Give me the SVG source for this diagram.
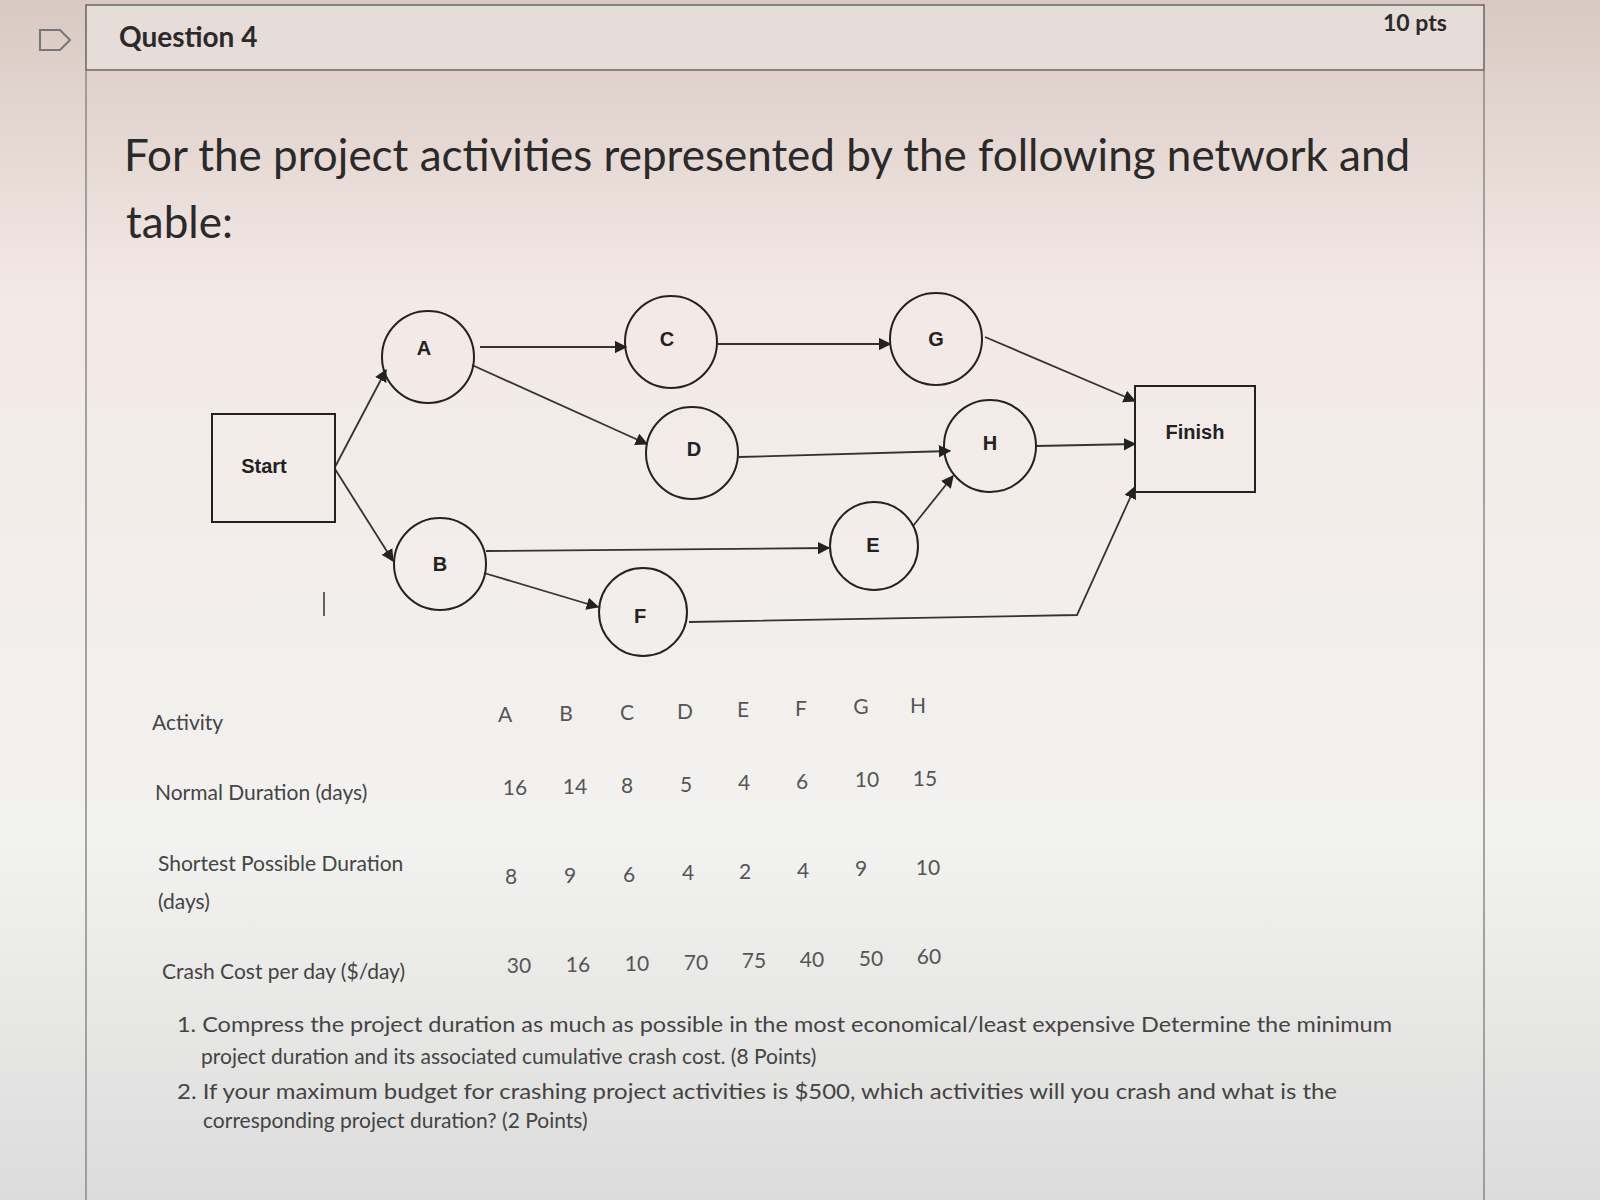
<svg xmlns="http://www.w3.org/2000/svg" width="1600" height="1200" viewBox="0 0 1600 1200">
<defs>
<marker id="ah" viewBox="0 0 10 10" refX="9" refY="5" markerWidth="7" markerHeight="7" orient="auto"><path d="M0,0 L10,5 L0,10 z" fill="#222"/></marker>
<linearGradient id="bg" x1="0" y1="0" x2="0" y2="1"><stop offset="0" stop-color="#d9c9c2"/><stop offset="0.25" stop-color="#f3e9e6"/><stop offset="0.7" stop-color="#f2f2f0"/><stop offset="1" stop-color="#dcdcdc"/></linearGradient>
<style>
.t{font-family:"Lato","Liberation Sans",sans-serif;fill:#2a2a2a}
.n{fill:none;stroke:#222;stroke-width:2}
.c{stroke:#333;stroke-width:1.8;fill:none}
.lb{font-family:"Liberation Sans",sans-serif;font-weight:bold;font-size:20px;fill:#222;text-anchor:middle}
.tb{font-family:"Lato","Liberation Sans",sans-serif;font-size:21px;fill:#444}
.v{font-family:"Lato","Liberation Sans",sans-serif;font-size:21px;fill:#555;text-anchor:middle}
</style>
</defs>
<rect width="1600" height="1200" fill="url(#bg)"/>
<rect x="86" y="5" width="1398" height="65" fill="#e6dcd8" stroke="#666" stroke-width="1.5"/>
<line x1="86" y1="70" x2="86" y2="1200" stroke="#888" stroke-width="1.5"/>
<line x1="1484" y1="70" x2="1484" y2="1200" stroke="#888" stroke-width="1.5"/>
<path d="M40,30 L60,30 L70,40 L60,50 L40,50 Z" fill="none" stroke="#777" stroke-width="2"/>
<text class="t" x="119" y="47" font-size="28" font-weight="bold">Question 4</text>
<text class="t" x="1383" y="31" font-size="23" font-weight="bold">10 pts</text>
<text class="t" x="124" y="171" font-size="44">For the project activities represented by the following network and</text>
<text class="t" x="126" y="238" font-size="44">table:</text>
<g id="connectors">
<line class="c" x1="335" y1="467" x2="386" y2="370" marker-end="url(#ah)"/>
<line class="c" x1="335" y1="469" x2="393" y2="561" marker-end="url(#ah)"/>
<line class="c" x1="480" y1="347" x2="626" y2="347" marker-end="url(#ah)"/>
<line class="c" x1="472" y1="365" x2="647" y2="444" marker-end="url(#ah)"/>
<line class="c" x1="718" y1="344" x2="890" y2="344" marker-end="url(#ah)"/>
<line class="c" x1="985" y1="337" x2="1135" y2="401" marker-end="url(#ah)"/>
<line class="c" x1="739" y1="457" x2="950" y2="451" marker-end="url(#ah)"/>
<line class="c" x1="1036" y1="446" x2="1135" y2="444" marker-end="url(#ah)"/>
<line class="c" x1="486" y1="551" x2="829" y2="548" marker-end="url(#ah)"/>
<line class="c" x1="484" y1="573" x2="598" y2="607" marker-end="url(#ah)"/>
<line class="c" x1="913" y1="526" x2="953" y2="476" marker-end="url(#ah)"/>
<polyline class="c" points="689,622 1077,615 1135,487" marker-end="url(#ah)"/>
</g>
<g id="start"><rect class="n" x="212" y="414" width="123" height="108" fill="#f7f3f2"/><text class="lb" x="264" y="473">Start</text></g>
<g id="A"><circle class="n" cx="428" cy="357" r="46"/><text class="lb" x="424" y="355">A</text></g>
<g id="C"><circle class="n" cx="671" cy="342" r="46"/><text class="lb" x="667" y="346">C</text></g>
<g id="G"><circle class="n" cx="936" cy="339" r="46"/><text class="lb" x="936" y="346">G</text></g>
<g id="D"><circle class="n" cx="692" cy="453" r="46"/><text class="lb" x="694" y="456">D</text></g>
<g id="H"><circle class="n" cx="990" cy="446" r="46"/><text class="lb" x="990" y="450">H</text></g>
<g id="finish"><rect class="n" x="1135" y="386" width="120" height="106" fill="#f7f3f2"/><text class="lb" x="1195" y="439">Finish</text></g>
<g id="E"><circle class="n" cx="874" cy="546" r="44"/><text class="lb" x="873" y="552">E</text></g>
<g id="B"><circle class="n" cx="440" cy="564" r="46"/><text class="lb" x="440" y="571">B</text></g>
<g id="F"><circle class="n" cx="643" cy="612" r="44"/><text class="lb" x="640" y="623">F</text></g>
<line x1="324" y1="592" x2="324" y2="616" stroke="#333" stroke-width="1.5"/>
<text class="tb" x="152" y="730">Activity</text>
<text class="tb" x="155" y="800">Normal Duration (days)</text>
<text class="tb" x="158" y="871">Shortest Possible Duration</text>
<text class="tb" x="158" y="909">(days)</text>
<text class="tb" x="162" y="979">Crash Cost  per day ($/day)</text>
<g class="v">
<text x="505" y="722">A</text><text x="566" y="721">B</text><text x="627" y="720">C</text><text x="685" y="719">D</text><text x="743" y="717">E</text><text x="801" y="716">F</text><text x="861" y="714">G</text><text x="918" y="713">H</text>
<text x="515" y="795">16</text><text x="575" y="794">14</text><text x="627" y="793">8</text><text x="686" y="792">5</text><text x="744" y="790">4</text><text x="802" y="789">6</text><text x="867" y="787">10</text><text x="925" y="786">15</text>
<text x="511" y="884">8</text><text x="570" y="883">9</text><text x="629" y="882">6</text><text x="688" y="880">4</text><text x="745" y="879">2</text><text x="803" y="878">4</text><text x="861" y="876">9</text><text x="928" y="875">10</text>
<text x="519" y="973">30</text><text x="578" y="972">16</text><text x="637" y="971">10</text><text x="696" y="970">70</text><text x="754" y="968">75</text><text x="812" y="967">40</text><text x="871" y="966">50</text><text x="929" y="964">60</text>
</g>
<g class="tb" font-size="22">
<text x="177" y="1032" textLength="1215" lengthAdjust="spacingAndGlyphs">1. Compress the project duration as much as possible in the most economical/least expensive Determine the minimum</text>
<text x="201" y="1064">project duration and its associated cumulative crash cost. (8 Points)</text>
<text x="177" y="1099" textLength="1160" lengthAdjust="spacingAndGlyphs">2. If your   maximum budget for crashing project activities is  $500, which activities will you  crash and what is the</text>
<text x="203" y="1128">corresponding project duration? (2 Points)</text>
</g>
</svg>
